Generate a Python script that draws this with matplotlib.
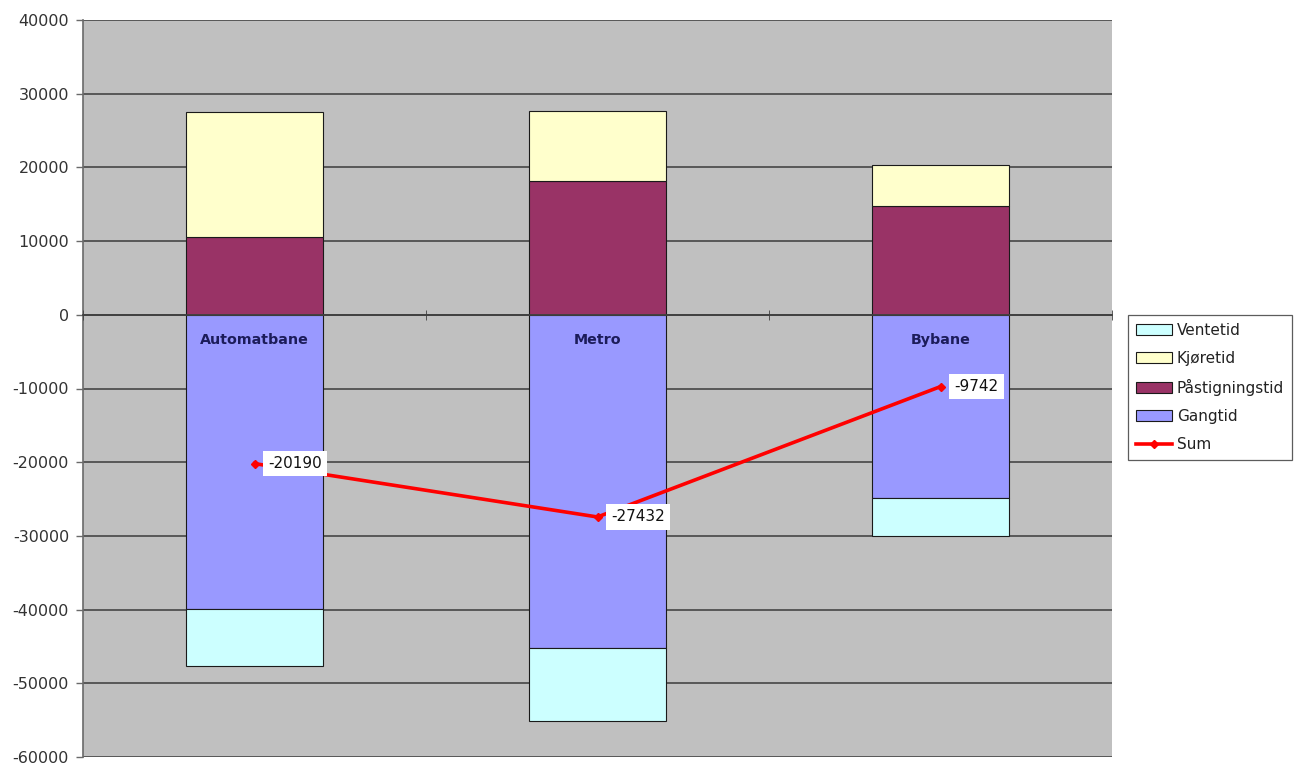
import matplotlib
matplotlib.use("Agg")
import matplotlib.pyplot as plt
import numpy as np

plt.rcParams['font.family'] = ['DejaVu Sans']

# Travel-time components per system (positive = gain, negative = loss)
categories = ["Automatbane", "Metro", "Bybane"]
paastigningstid = [10500, 18200, 14800]
kjoeretid = [17000, 9500, 5500]
gangtid = [-39900, -45200, -24800]
ventetid = [-7790, -9932, -5242]
sum_values = [-20190, -27432, -9742]

y_ticks = [-60000, -50000, -40000, -30000, -20000, -10000, 0, 10000, 20000, 30000, 40000]

col_vent = "#ccffff"
col_kjor = "#ffffcc"
col_paas = "#993366"
col_gang = "#9999ff"
col_sum = "#ff0000"

fig = plt.figure(figsize=(13.01, 7.64), dpi=100)
ax = fig.add_axes([83 / 1301, 1 - 757 / 764, (1112 - 83) / 1301, (757 - 20) / 764])
ax.set_facecolor("#c0c0c0")

x = np.arange(len(categories))
w = 0.4
edge = dict(edgecolor="#1a1a1a", linewidth=0.8)

b_paas = ax.bar(x, paastigningstid, w, color=col_paas, label="Påstigningstid", **edge)
b_kjor = ax.bar(x, kjoeretid, w, bottom=paastigningstid, color=col_kjor, label="Kjøretid", **edge)
b_gang = ax.bar(x, gangtid, w, color=col_gang, label="Gangtid", **edge)
b_vent = ax.bar(x, ventetid, w, bottom=gangtid, color=col_vent, label="Ventetid", **edge)

line, = ax.plot(x, sum_values, color=col_sum, lw=2.6, marker="D", markersize=4,
                label="Sum", zorder=4)

for xi, v in zip(x, sum_values):
    ax.annotate(f"{v}", (xi, v), xytext=(10, 0), textcoords="offset points",
                ha="left", va="center", fontsize=11, color="#111111", zorder=5,
                bbox=dict(boxstyle="square,pad=0.35", fc="white", ec="none"))

ax.set_xlim(-0.5, 2.5)
ax.set_ylim(-60000, 40000)
ax.set_yticks(y_ticks)
ax.set_yticklabels([str(t) for t in y_ticks])

# Gridlines stay behind the bars, category labels sit on top of them
ax.yaxis.set_zorder(0.5)
ax.xaxis.set_zorder(3)
ax.yaxis.grid(True, color="#505050", linewidth=1.3)
ax.xaxis.grid(False)

ax.spines["top"].set_visible(False)
ax.spines["right"].set_visible(False)
ax.spines["left"].set_color("#6a6a6a")
ax.spines["left"].set_linewidth(1.2)
ax.spines["bottom"].set_position(("data", 0))
ax.spines["bottom"].set_color("#404040")
ax.spines["bottom"].set_linewidth(1.3)

ax.set_xticks(x)
ax.set_xticklabels(categories, fontsize=10.3, fontweight="bold", color="#1c1c5a")
ax.set_xticks([-0.5, 0.5, 1.5, 2.5], minor=True)
ax.tick_params(axis="x", which="major", length=0, pad=13)
ax.tick_params(axis="x", which="minor", length=7, direction="inout", color="#404040")
ax.tick_params(axis="y", length=5, width=1, color="#6a6a6a", labelsize=11.5,
               labelcolor="#333333", pad=5)

handles = [b_vent, b_kjor, b_paas, b_gang, line]
labels = ["Ventetid", "Kjøretid", "Påstigningstid", "Gangtid", "Sum"]
leg = fig.legend(handles, labels, loc="upper left",
                 bbox_to_anchor=(1128 / 1301, 1 - 315 / 764),
                 prop={"size": 11}, frameon=True, fancybox=False, shadow=False,
                 borderaxespad=0, borderpad=0.5, labelspacing=0.86,
                 handlelength=2.4, handleheight=0.7, handletextpad=0.3)
leg.get_frame().set_edgecolor("#333333")
leg.get_frame().set_linewidth(0.9)
for t in leg.get_texts():
    t.set_color("#222222")

fig.savefig("out.png", dpi=100, facecolor="white")
